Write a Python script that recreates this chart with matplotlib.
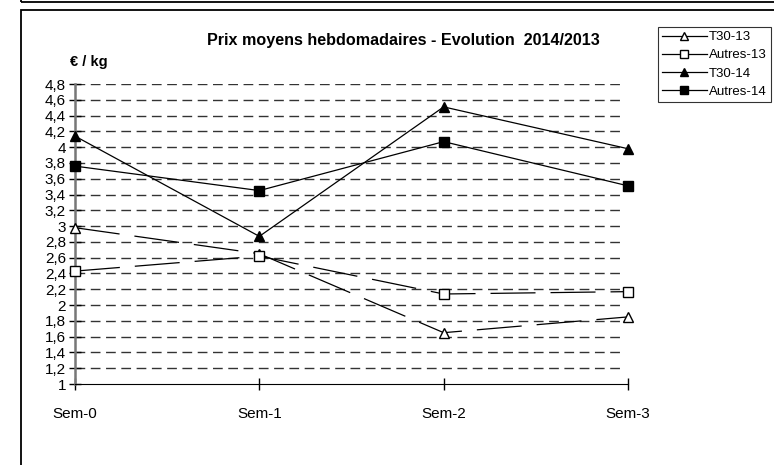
import matplotlib.pyplot as plt
from matplotlib.lines import Line2D
from matplotlib.patches import Rectangle

plt.rcParams['font.family'] = ['Liberation Sans', 'DejaVu Sans']

weeks = ["Sem-0", "Sem-1", "Sem-2", "Sem-3"]
t30_13 = [2.98, 2.65, 1.65, 1.85]
autres_13 = [2.43, 2.62, 2.14, 2.17]
t30_14 = [4.14, 2.87, 4.51, 3.98]
autres_14 = [3.76, 3.45, 4.07, 3.51]
yticks = [1.0, 1.2, 1.4, 1.6, 1.8, 2.0, 2.2, 2.4, 2.6, 2.8, 3.0, 3.2, 3.4,
          3.6, 3.8, 4.0, 4.2, 4.4, 4.6, 4.8]

W, H = 774, 465
fig = plt.figure(figsize=(W / 100, H / 100), dpi=100)
ax = fig.add_axes([75 / W, (H - 384) / H, (628 - 75) / W, 300 / H])

x = list(range(len(weeks)))
dash13 = (0, (36, 12))
ax.plot(x, t30_13, color='black', lw=0.9, linestyle=dash13, marker='^',
        markerfacecolor='white', markeredgecolor='black', markersize=7, clip_on=False, zorder=3)
ax.plot(x, autres_13, color='black', lw=0.9, linestyle=dash13, marker='s',
        markerfacecolor='white', markeredgecolor='black', markersize=7, clip_on=False, zorder=3)
ax.plot(x, t30_14, color='black', lw=0.9, marker='^', markersize=7, clip_on=False, zorder=3)
ax.plot(x, autres_14, color='black', lw=0.9, marker='s', markersize=7, clip_on=False, zorder=3)

ax.set_xlim(0, 3)
ax.set_ylim(1, 4.8)
ax.set_yticks(yticks)
ax.set_yticklabels([("%g" % v).replace('.', ',') for v in yticks], fontsize=11)
ax.set_xticks(x)
ax.set_xticklabels(weeks, fontsize=11)
ax.tick_params(axis='y', direction='inout', length=9, width=1, pad=2)
ax.tick_params(axis='x', direction='inout', length=9, width=1, pad=12)
ax.hlines(yticks[1:], 0, 2.965, colors='#333333', linestyles=(0, (7, 4)), linewidth=1, zorder=1)
for s in ['top', 'right']:
    ax.spines[s].set_visible(False)
ax.spines['left'].set_color('#777777')
ax.spines['left'].set_linewidth(1.8)
ax.spines['bottom'].set_color('black')

fig.text(403 / W, 1 - 40 / H, "Prix moyens hebdomadaires - Evolution  2014/2013",
         ha='center', va='center', fontsize=11.6, fontweight='bold')
fig.text(70 / W, 1 - 62 / H, "€ / kg", ha='left', va='center', fontsize=10.5, fontweight='bold')

handles = [
    Line2D([], [], color='black', lw=0.9, marker='^', markerfacecolor='white', markersize=6),
    Line2D([], [], color='black', lw=0.9, marker='s', markerfacecolor='white', markersize=6),
    Line2D([], [], color='black', lw=0.9, marker='^', markersize=6),
    Line2D([], [], color='black', lw=0.9, marker='s', markersize=6),
]
leg = fig.legend(handles, ["T30-13", "Autres-13", "T30-14", "Autres-14"],
                 loc='upper left', bbox_to_anchor=(658 / W, 1 - 27 / H),
                 fontsize=9.5, frameon=True, fancybox=False, edgecolor='black',
                 handlelength=3.4, handletextpad=0.15, borderpad=0.3,
                 labelspacing=0.45, borderaxespad=0)
leg.get_frame().set_linewidth(0.8)

# outer frames
fig.patches.append(Rectangle((21 / W, -0.1), 1.0, 1 - 10 / H + 0.1, transform=fig.transFigure,
                             fill=False, edgecolor='black', linewidth=1.3))
fig.patches.append(Rectangle((21 / W, 1 - 2 / H), 1.0, 0.1, transform=fig.transFigure,
                             fill=False, edgecolor='black', linewidth=1.3))

fig.savefig("out.png", dpi=100)
